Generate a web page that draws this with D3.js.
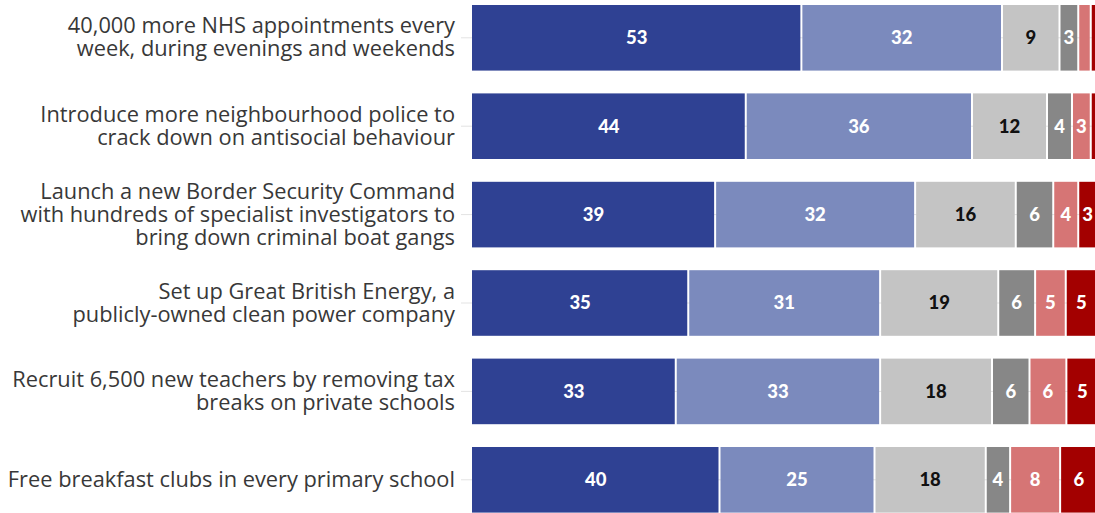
<!DOCTYPE html>
<html>
<head>
<meta charset="utf-8">
<script src="https://cdn.jsdelivr.net/npm/d3@7"></script>
<style>
  html, body { margin: 0; padding: 0; background: #ffffff; overflow: hidden; }
  svg { display: block; }
</style>
</head>
<body>
<svg id="chart" width="1095" height="513"></svg>
<script>
// ---- data ----
const categories = [
  "40,000 more NHS appointments every\nweek, during evenings and weekends",
  "Introduce more neighbourhood police to\ncrack down on antisocial behaviour",
  "Launch a new Border Security Command\nwith hundreds of specialist investigators to\nbring down criminal boat gangs",
  "Set up Great British Energy, a\npublicly-owned clean power company",
  "Recruit 6,500 new teachers by removing tax\nbreaks on private schools",
  "Free breakfast clubs in every primary school"
];
const seriesNames = ["Strongly support", "Somewhat support", "Neither", "Don't know", "Somewhat oppose", "Strongly oppose"];
const stronglySupport = [52.7, 43.8, 38.9, 34.6, 32.6, 39.6];
const somewhatSupport = [32.1, 36.2, 32.0, 30.7, 32.7, 24.8];
const neither         = [9.2, 12.0, 16.1, 18.9, 17.9, 17.8];
const dontKnow        = [3.0, 4.0, 6.0, 5.9, 6.0, 3.9];
const somewhatOppose  = [2.0, 3.0, 4.0, 4.9, 5.9, 8.0];
const stronglyOppose  = [1.0, 1.0, 3.0, 5.0, 5.1, 6.0];
const seriesValues = [stronglySupport, somewhatSupport, neither, dontKnow, somewhatOppose, stronglyOppose];
const xTicks = [0, 100];

// ---- styles ----
const colors = ["#2f4193", "#7b8abd", "#c4c4c4", "#878787", "#d67575", "#a30000"];
const labelColors = ["#ffffff", "#ffffff", "#111111", "#ffffff", "#ffffff", "#ffffff"];

const svg = d3.select("#chart");

const x = d3.scaleLinear().domain([xTicks[0], xTicks[1]]).range([472, 1097]);
const y = d3.scaleBand().domain(d3.range(categories.length)).range([5, 512.6]).paddingInner(0.258).paddingOuter(0);

// build stacked table
const table = categories.map((c, i) => {
  const row = { idx: i };
  seriesNames.forEach((s, k) => row[s] = seriesValues[k][i]);
  return row;
});
const stack = d3.stack().keys(seriesNames)(table);

// faint row gridlines (axis ticks)
svg.append("g").selectAll("line")
  .data(categories)
  .join("line")
  .attr("x1", 461).attr("x2", 1095)
  .attr("y1", (d, i) => y(i) + y.bandwidth() / 2)
  .attr("y2", (d, i) => y(i) + y.bandwidth() / 2)
  .attr("stroke", "#e3e3e3")
  .attr("stroke-width", 1);

// bars
const layers = svg.append("g").selectAll("g")
  .data(stack)
  .join("g")
  .attr("fill", (d, k) => colors[k]);

layers.selectAll("rect")
  .data((d, k) => d.map(p => ({ p, k })))
  .join("rect")
  .attr("x", d => x(d.p[0]) + (d.k > 0 ? 1 : 0))
  .attr("y", d => y(d.p.data.idx))
  .attr("width", d => Math.max(0, x(d.p[1]) - x(d.p[0]) - (d.k > 0 ? 2 : 1)))
  .attr("height", y.bandwidth());

// value labels
const vl = svg.append("g")
  .attr("font-family", "Lato, 'DejaVu Sans', sans-serif")
  .attr("font-weight", 900)
  .attr("font-size", 18.5)
  .attr("text-anchor", "middle");

stack.forEach((layer, k) => {
  vl.selectAll(null)
    .data(layer.filter(p => (p[1] - p[0]) >= 2.5))
    .join("text")
    .attr("x", p => (x(p[0]) + x(p[1])) / 2)
    .attr("y", p => y(p.data.idx) + y.bandwidth() / 2)
    .attr("dy", "0.35em")
    .attr("fill", labelColors[k])
    .text(p => d3.format(".0f")(p[1] - p[0]));
});

// category labels
const lineH = 23;
const cl = svg.append("g")
  .attr("font-family", "'Open Sans', 'DejaVu Sans', sans-serif")
  .attr("font-size", 21.8)
  .attr("fill", "#383838")
  .attr("text-anchor", "end");

categories.forEach((c, i) => {
  const lines = c.split("\n");
  const cy = y(i) + y.bandwidth() / 2;
  const t = cl.append("text").attr("x", 455);
  lines.forEach((ln, j) => {
    t.append("tspan")
      .attr("x", 455)
      .attr("y", cy + (j - (lines.length - 1) / 2) * lineH)
      .attr("dy", "0.33em")
      .text(ln);
  });
});
</script>
</body>
</html>
